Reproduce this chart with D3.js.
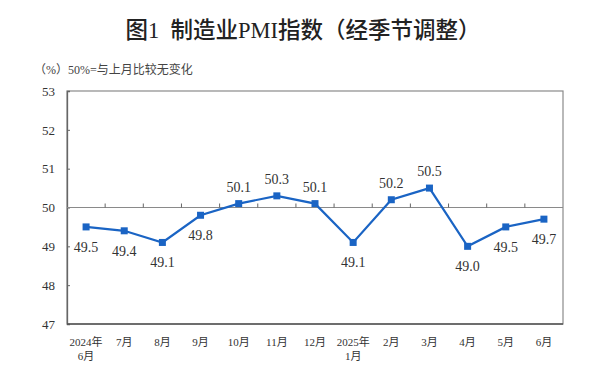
<!DOCTYPE html>
<html><head><meta charset="utf-8">
<script src="https://cdn.jsdelivr.net/npm/d3@7"></script>
<style>
body{margin:0;background:#fff;}
svg{display:block;}
</style></head>
<body>
<svg id="chart" width="600" height="373"></svg>
<script>
const months = ["2024年\n6月","7月","8月","9月","10月","11月","12月","2025年\n1月","2月","3月","4月","5月","6月"];
const pmi = [49.5,49.4,49.1,49.8,50.1,50.3,50.1,49.1,50.2,50.5,49.0,49.5,49.7];
const yTicks = [47,48,49,50,51,52,53];
const title = "图1  制造业PMI指数（经季节调整）";
const subtitle = "（%）50%=与上月比较无变化";

const svg = d3.select("#chart");
const serif = "'Liberation Serif','Times New Roman','Noto Sans CJK SC',serif";
const m = {left:67, right:563, top:91, bottom:324};

const x = d3.scaleBand().domain(months).range([m.left, m.right]);
const y = d3.scaleLinear().domain([47,53]).range([m.bottom, m.top]);

svg.append("rect").attr("width",600).attr("height",373).attr("fill","#fff");

svg.append("text").attr("x",303).attr("y",38).attr("text-anchor","middle")
  .attr("font-family",serif).attr("font-size",22.5).attr("font-weight",500).attr("fill","#222")
  .attr("xml:space","preserve").text(title);

svg.append("text").attr("x",34).attr("y",74)
  .attr("font-family",serif).attr("font-size",12).attr("fill","#444").text(subtitle);

// frame
svg.append("rect").attr("x",m.left).attr("y",m.top).attr("width",m.right-m.left).attr("height",m.bottom-m.top)
  .attr("fill","none").attr("stroke","#8a8a8a").attr("stroke-width",1.2);

// left axis
const yAxis = d3.axisLeft(y).tickValues(yTicks).tickSize(-3).tickPadding(12).tickFormat(d3.format("d"));
const ga = svg.append("g").attr("transform",`translate(${m.left},0)`).call(yAxis);
ga.select(".domain").attr("stroke","#666").attr("stroke-width",1.3);
ga.selectAll(".tick line").attr("stroke","#666");
ga.selectAll(".tick text").attr("font-family",serif).attr("font-size",13).attr("fill","#333");

// bottom axis line
svg.append("line").attr("x1",m.left).attr("x2",m.right).attr("y1",m.bottom).attr("y2",m.bottom)
  .attr("stroke","#555").attr("stroke-width",1.5);

// 50 reference line with ticks at band boundaries
const g50 = svg.append("g").attr("transform",`translate(0,${y(50)})`);
g50.append("line").attr("x1",m.left).attr("x2",m.right).attr("stroke","#8a8a8a").attr("stroke-width",1.2);
g50.selectAll("line.tk").data(months.slice(1)).join("line").attr("class","tk")
  .attr("x1",d=>x(d)).attr("x2",d=>x(d)).attr("y1",0).attr("y2",-4)
  .attr("stroke","#666").attr("stroke-width",1);

// x labels
const xl = svg.append("g");
months.forEach(mo=>{
  const lines = mo.split("\n");
  const t = xl.append("text").attr("x",x(mo)+x.bandwidth()/2).attr("y",346)
    .attr("text-anchor","middle").attr("font-family",serif).attr("font-size",11).attr("fill","#333");
  lines.forEach((ln,i)=>t.append("tspan").attr("x",x(mo)+x.bandwidth()/2).attr("dy",i?14:0).text(ln));
});

const cx = d=>x(d)+x.bandwidth()/2;
const blue = "#1a64c4";
const line = d3.line().x((d,i)=>cx(months[i])).y(d=>y(d));
svg.append("path").datum(pmi).attr("d",line).attr("fill","none").attr("stroke",blue).attr("stroke-width",2.2);
svg.selectAll("rect.mk").data(pmi).join("rect").attr("class","mk")
  .attr("x",(d,i)=>cx(months[i])-3.5).attr("y",d=>y(d)-3.5).attr("width",7).attr("height",7).attr("fill",blue);

svg.selectAll("text.lbl").data(pmi).join("text").attr("class","lbl")
  .attr("x",(d,i)=>cx(months[i]))
  .attr("y",d=>y(d) + (d>=50 ? -12 : 25))
  .attr("text-anchor","middle").attr("font-family",serif).attr("font-size",14).attr("fill","#333")
  .text(d=>d3.format(".1f")(d));
</script>
</body></html>
